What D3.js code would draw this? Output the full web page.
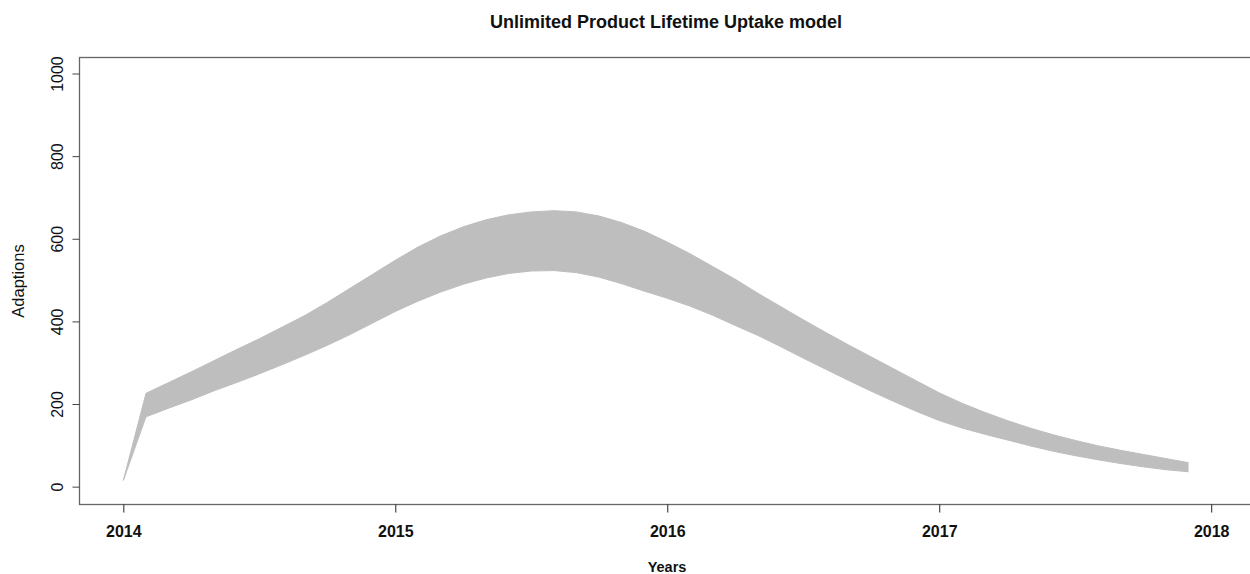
<!DOCTYPE html>
<html>
<head>
<meta charset="utf-8">
<script src="https://cdn.jsdelivr.net/npm/d3@7"></script>
<style>
  html, body { margin: 0; padding: 0; background: #fff; }
  svg { display: block; font-family: "Liberation Sans", Arial, sans-serif; }
</style>
</head>
<body>
<svg id="chart" width="1250" height="574"></svg>
<script>
// Monthly time index, Jan 2014 .. Dec 2017
const months = d3.range(48).map(i => 2014 + i / 12);

// Highest simulated adoptions per month (top of the simulation envelope)
const upperRun = [
  15, 226, 252, 278, 305, 332, 358, 386, 414, 446, 480, 514,
  548, 580, 607, 629, 646, 658, 665, 668, 665, 655, 639, 618,
  592, 564, 533, 502, 468, 436, 404, 373, 343, 314, 285, 256,
  227, 202, 180, 160, 142, 126, 112, 99, 88, 78, 68, 58
];

// Lowest simulated adoptions per month (bottom of the simulation envelope)
const lowerRun = [
  15, 169, 190, 210, 232, 252, 273, 295, 318, 342, 368, 396,
  424, 449, 471, 490, 505, 516, 522, 523, 518, 507, 491, 473,
  456, 437, 415, 390, 366, 339, 311, 284, 257, 231, 206, 182,
  160, 142, 127, 113, 99, 86, 75, 65, 56, 48, 41, 36
];

const xTicks = [2014, 2015, 2016, 2017, 2018];
const yTicks = [0, 200, 400, 600, 800, 1000];

const svg = d3.select("#chart");
const plot = { left: 79, top: 57, right: 1252, bottom: 504 };

const x = d3.scaleLinear().domain([2013.837, 2018.15]).range([plot.left, plot.right]);
const y = d3.scaleLinear().domain([-42, 1040]).range([plot.bottom, plot.top]);

const bandColor = "#bebebe";

// Envelope of all simulation runs
const band = d3.area()
  .x((d, i) => x(months[i]))
  .y0((d, i) => y(lowerRun[i]))
  .y1((d, i) => y(upperRun[i]));

svg.append("path")
  .datum(upperRun)
  .attr("d", band)
  .attr("fill", bandColor);

const line = d3.line().x((d, i) => x(months[i])).y(d => y(d));
[upperRun, lowerRun].forEach(run => {
  svg.append("path")
    .datum(run)
    .attr("d", line)
    .attr("fill", "none")
    .attr("stroke", bandColor)
    .attr("stroke-width", 1);
});

// Plot frame
svg.append("rect")
  .attr("x", plot.left + 0.5)
  .attr("y", plot.top + 0.5)
  .attr("width", plot.right - plot.left)
  .attr("height", plot.bottom - plot.top)
  .attr("fill", "none")
  .attr("stroke", "#666")
  .attr("stroke-width", 1.3);

// X axis
const xAxis = svg.append("g")
  .attr("transform", `translate(0,${plot.bottom + 0.5})`)
  .call(d3.axisBottom(x).tickValues(xTicks).tickSize(8).tickFormat(d3.format("d")));
xAxis.select(".domain").remove();
xAxis.selectAll(".tick line").attr("stroke", "#222");
xAxis.selectAll(".tick text")
  .attr("y", 0)
  .attr("dy", null)
  .attr("transform", "translate(0,32)")
  .attr("font-size", 16)
  .attr("font-weight", "bold")
  .attr("font-family", "Liberation Sans, Arial, sans-serif")
  .attr("fill", "#111");

// Y axis with rotated labels
const yAxis = svg.append("g")
  .attr("transform", `translate(${plot.left + 0.5},0)`)
  .call(d3.axisLeft(y).tickValues(yTicks).tickSize(7).tickFormat(d3.format("d")));
yAxis.select(".domain").remove();
yAxis.selectAll(".tick line").attr("stroke", "#444");
yAxis.selectAll(".tick text")
  .attr("x", 0)
  .attr("y", -17)
  .attr("dy", null)
  .attr("transform", "rotate(-90)")
  .attr("text-anchor", "middle")
  .attr("font-size", 16)
  .attr("font-family", "Liberation Sans, Arial, sans-serif")
  .attr("fill", "#111");

// Title and axis titles
svg.append("text")
  .attr("x", 666)
  .attr("y", 28)
  .attr("text-anchor", "middle")
  .attr("font-size", 18)
  .attr("font-weight", "bold")
  .attr("fill", "#111")
  .text("Unlimited Product Lifetime Uptake model");

svg.append("text")
  .attr("x", 667)
  .attr("y", 572)
  .attr("text-anchor", "middle")
  .attr("font-size", 14.5)
  .attr("font-weight", "bold")
  .attr("fill", "#111")
  .text("Years");

svg.append("text")
  .attr("transform", "translate(24,281) rotate(-90)")
  .attr("text-anchor", "middle")
  .attr("font-size", 16.5)
  .attr("fill", "#111")
  .text("Adaptions");
</script>
</body>
</html>
